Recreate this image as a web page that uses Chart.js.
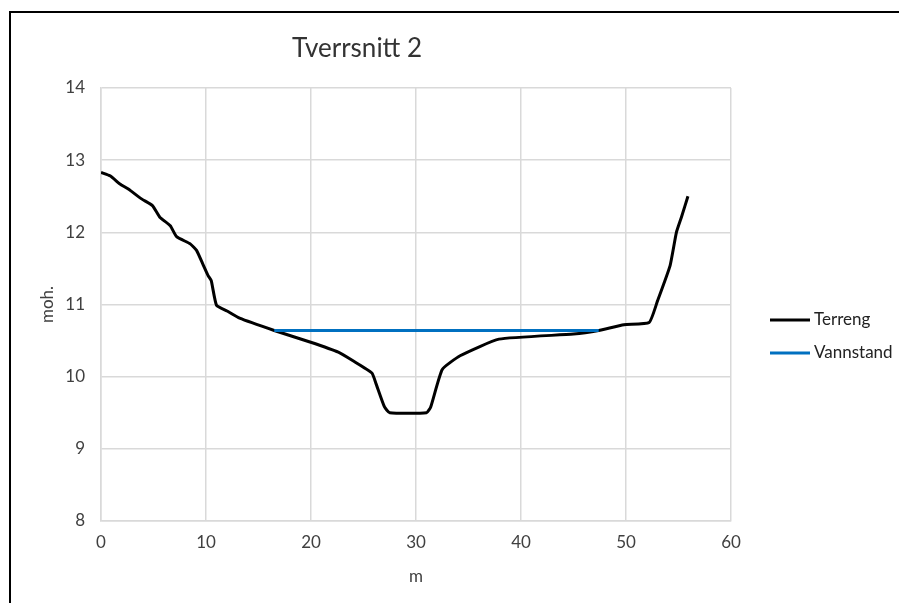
<!DOCTYPE html>
<html>
<head>
<meta charset="utf-8">
<script src="https://cdn.jsdelivr.net/npm/chart.js@4.4.1/dist/chart.umd.min.js"></script>
<style>
  html, body { margin: 0; padding: 0; background: #fff; overflow: hidden; }
  #wrap { position: relative; width: 899px; height: 603px; }
  #frame { position: absolute; left: 9px; top: 11px; width: 900px; height: 600px; border: 2px solid #000; pointer-events: none; }
</style>
</head>
<body>
<div id="wrap">
  <canvas id="myChart" width="899" height="603"></canvas>
  <div id="frame"></div>
</div>
<script>
// Tverrsnitt 2 - terrain profile and water level
const terrengX = [0, 0.9, 1.8, 2.6, 3.9, 4.9, 5.6, 6.6, 7.2, 8.5, 9.1, 9.7, 10.2, 10.5, 11.0, 12.0, 13.2,
    16.5, 19.9, 22.6, 24.0, 25.8, 26.2, 27.0, 27.5, 31.0, 31.4, 32.5, 34.2, 37.9, 45.0, 47.4,
    49.8, 52.2, 53.0, 54.2, 54.8, 55.3, 55.9];
const terrengY = [12.83, 12.78, 12.67, 12.60, 12.46, 12.37, 12.21, 12.09, 11.94, 11.84, 11.75, 11.56, 11.40, 11.33, 10.99, 10.91, 10.81,
    10.64, 10.48, 10.34, 10.22, 10.05, 9.90, 9.58, 9.50, 9.50, 9.58, 10.10, 10.29, 10.52, 10.59, 10.64,
    10.72, 10.75, 11.05, 11.54, 12.00, 12.22, 12.50];
const vannX = [16.5, 47.4];
const vannY = [10.64, 10.64];

const xTicks = [0, 10, 20, 30, 40, 50, 60];
const yTicks = [8, 9, 10, 11, 12, 13, 14];

const toPoints = (xs, ys) => xs.map((x, i) => ({ x: x, y: ys[i] }));

const FONT = 'Lato, "Open Sans", sans-serif';
const TEXT = '#404040';
const GRID = '#d9d9d9';

// title and legend are placed like in the Excel original
const titlePlugin = {
    id: 'excelTitle',
    afterDraw(chart) {
        const ctx = chart.ctx;
        ctx.save();
        ctx.font = '26px ' + FONT;
        ctx.fillStyle = '#333';
        ctx.textAlign = 'center';
        ctx.textBaseline = 'middle';
        ctx.fillText('Tverrsnitt 2', 357, 49);
        ctx.restore();
    }
};

const legendPlugin = {
    id: 'excelLegend',
    afterDraw(chart) {
        const ctx = chart.ctx;
        ctx.save();
        ctx.font = '17px ' + FONT;
        ctx.textBaseline = 'middle';
        chart.data.datasets.forEach((ds, i) => {
            const y = 320 + i * 33;
            ctx.strokeStyle = ds.borderColor;
            ctx.lineWidth = 3;
            ctx.beginPath();
            ctx.moveTo(770, y);
            ctx.lineTo(810, y);
            ctx.stroke();
            ctx.fillStyle = '#222';
            ctx.fillText(ds.label, 814, y);
        });
        ctx.restore();
    }
};

const ctx = document.getElementById('myChart').getContext('2d');
const chart = new Chart(ctx, {
    type: 'scatter',
    data: {
        datasets: [{
            label: 'Terreng',
            data: toPoints(terrengX, terrengY),
            showLine: true,
            borderColor: '#000000',
            backgroundColor: '#000000',
            borderWidth: 3,
            pointRadius: 0,
            tension: 0.15,
            order: 1
        }, {
            label: 'Vannstand',
            data: toPoints(vannX, vannY),
            showLine: true,
            borderColor: '#0070C0',
            backgroundColor: '#0070C0',
            borderWidth: 3,
            pointRadius: 0,
            order: 0
        }]
    },
    options: {
        responsive: false,
        animation: false,
        layout: { padding: { left: 33, right: 168, top: 88, bottom: 12 } },
        plugins: {
            legend: { display: false },
            tooltip: { enabled: false }
        },
        scales: {
            x: {
                type: 'linear',
                min: 0,
                max: 60,
                afterBuildTicks: s => { s.ticks = xTicks.map(v => ({ value: v })); },
                afterFit: s => { s.height = 70; },
                ticks: { color: TEXT, font: { family: FONT, size: 17 }, padding: 11 },
                grid: { color: GRID, drawTicks: false, lineWidth: 1.5 },
                border: { color: GRID, width: 1.5 },
                title: { display: true, text: 'm', color: TEXT, font: { family: FONT, size: 17 } }
            },
            y: {
                type: 'linear',
                min: 8,
                max: 14,
                afterBuildTicks: s => { s.ticks = yTicks.map(v => ({ value: v })); },
                afterFit: s => { s.width = 68; },
                ticks: { color: TEXT, font: { family: FONT, size: 17 }, padding: 16 },
                grid: { color: GRID, drawTicks: false, lineWidth: 1.5 },
                border: { color: GRID, width: 1.5 },
                title: { display: true, text: 'moh.', color: TEXT, font: { family: FONT, size: 17 } }
            }
        }
    },
    plugins: [titlePlugin, legendPlugin]
});
</script>
</body>
</html>
